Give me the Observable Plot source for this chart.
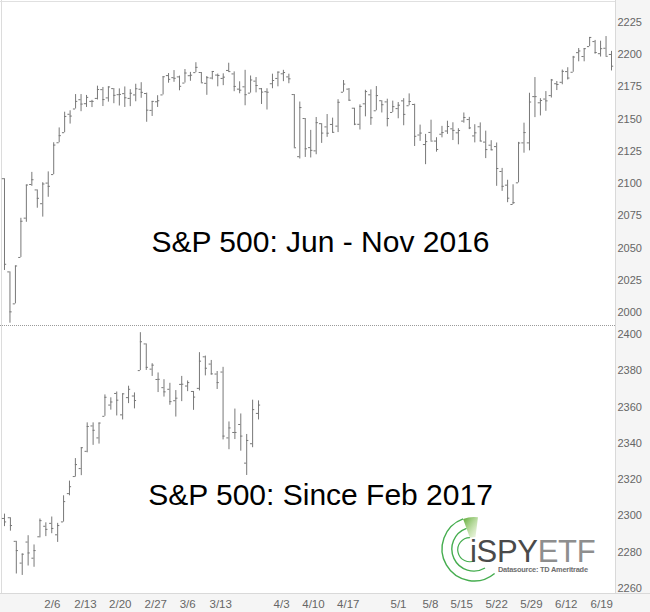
<!DOCTYPE html>
<html>
<head>
<meta charset="utf-8">
<script src="https://cdn.jsdelivr.net/npm/d3@7"></script>
<script src="https://cdn.jsdelivr.net/npm/@observablehq/plot@0.6"></script>
<style>
  html, body { margin: 0; padding: 0; background: #fff; }
  #wrap { position: relative; width: 650px; height: 612px; overflow: hidden; font-family: "Liberation Sans", Arial, sans-serif; background: #fff; }
  .abs { position: absolute; }
  #rightBand { left: 615px; top: 0; width: 35px; height: 612px; background: #f5f5f5; border-left: 1px solid #d9d9d9; box-sizing: border-box; }
  #bottomBand { left: 0; top: 593px; width: 650px; height: 19px; background: #f5f5f5; border-top: 1px solid #d9d9d9; box-sizing: border-box; }
  #leftLine { left: 1px; top: 0; width: 1px; height: 593px; background: #dcdcdc; }
  #topLine { left: 0; top: 1px; width: 615px; height: 1px; background: #e0e0e0; }
  #sep { left: 0; top: 325px; width: 615px; height: 0; border-top: 1px dotted #9a9a9a; }
  #topChart { left: 0; top: 0; }
  #botChart { left: 0; top: 326px; }
  #logo { left: 430px; top: 505px; }
</style>
</head>
<body>
<div id="wrap">
  <div id="rightBand" class="abs"></div>
  <div id="bottomBand" class="abs"></div>
  <div id="leftLine" class="abs"></div>
  <div id="topLine" class="abs"></div>
  <div id="topChart" class="abs"></div>
  <div id="botChart" class="abs"></div>
  <div id="sep" class="abs"></div>
  <div id="logo" class="abs">
    <svg width="180" height="85" viewBox="0 0 180 85" xmlns="http://www.w3.org/2000/svg">
      <defs>
        <linearGradient id="wedge" x1="0" y1="0" x2="1" y2="1">
          <stop offset="0" stop-color="#5aa832" stop-opacity="1"/>
          <stop offset="1" stop-color="#b9dc8e" stop-opacity="0.2"/>
        </linearGradient>
      </defs>
      <g transform="translate(44,44)" fill="none" stroke="#45ad4f" stroke-width="1.4">
        <path d="M 20.6 24.5 A 32 32 0 1 1 -10.9 -30.1"/>
        <path d="M 11 19 A 22 22 0 1 1 -7.5 -20.7"/>
        <path d="M 1 11.5 A 12 12 0 1 1 -4.1 -11.3" stroke-width="1.2"/>
        <path d="M -4.1 -11.3 L -10.9 -30.1 A 32 32 0 0 1 4 -31.7 L 1.5 -11.9 Z" fill="url(#wedge)" stroke="none"/>
      </g>
      <text x="40" y="57" font-family="Liberation Sans, Arial, sans-serif" font-size="31" letter-spacing="-0.3"><tspan fill="#4a4a4a">iSPY</tspan><tspan fill="#8e8e8e">ETF</tspan></text>
      <text x="68" y="67" font-family="Liberation Sans, Arial, sans-serif" font-size="7.4" font-weight="bold" fill="#6e6e6e" textLength="90">Datasource: TD Ameritrade</text>
    </svg>
  </div>
</div>
<script>
// ---------- Data: S&P 500 daily OHLC, Jun 24 - Dec 1, 2016 ----------
const dates2016 = ["6/24","6/27","6/28","6/29","6/30","7/1","7/5","7/6","7/7","7/8","7/11","7/12","7/13","7/14","7/15","7/18","7/19","7/20","7/21","7/22","7/25","7/26","7/27","7/28","7/29","8/1","8/2","8/3","8/4","8/5","8/8","8/9","8/10","8/11","8/12","8/15","8/16","8/17","8/18","8/19","8/22","8/23","8/24","8/25","8/26","8/29","8/30","8/31","9/1","9/2","9/6","9/7","9/8","9/9","9/12","9/13","9/14","9/15","9/16","9/19","9/20","9/21","9/22","9/23","9/26","9/27","9/28","9/29","9/30","10/3","10/4","10/5","10/6","10/7","10/10","10/11","10/12","10/13","10/14","10/17","10/18","10/19","10/20","10/21","10/24","10/25","10/26","10/27","10/28","10/31","11/1","11/2","11/3","11/4","11/7","11/8","11/9","11/10","11/11","11/14","11/15","11/16","11/17","11/18","11/21","11/22","11/23","11/25","11/28","11/29","11/30","12/1"];
const open2016 = [2103.8,2031.5,2006.7,2042.7,2073.2,2099.3,2095.1,2084.4,2100.4,2107.0,2131.7,2139.5,2153.8,2157.9,2165.1,2162.0,2163.8,2166.1,2172.9,2166.5,2173.7,2169.0,2169.8,2166.1,2168.8,2173.2,2169.9,2156.8,2163.5,2168.8,2183.8,2182.2,2182.8,2178.0,2183.7,2186.1,2186.2,2177.8,2181.9,2184.2,2181.6,2187.8,2185.1,2173.3,2175.1,2170.2,2179.5,2173.6,2171.3,2177.5,2181.6,2185.2,2182.8,2169.1,2120.9,2150.5,2127.9,2125.4,2146.5,2144.0,2145.9,2144.6,2170.9,2173.3,2158.5,2146.0,2161.9,2168.9,2156.5,2164.3,2163.4,2155.2,2158.2,2164.2,2160.4,2161.4,2137.7,2130.3,2139.7,2133.0,2138.3,2140.8,2142.5,2139.4,2148.5,2149.7,2137.0,2144.1,2132.2,2129.8,2128.7,2109.4,2098.8,2083.8,2100.6,2131.6,2131.6,2167.5,2162.7,2165.6,2168.3,2177.5,2178.6,2186.9,2186.4,2201.6,2198.6,2206.3,2210.2,2200.8,2205.0,2200.2];
const high2016 = [2103.8,2031.5,2036.1,2073.1,2098.9,2108.7,2095.1,2100.7,2109.1,2131.7,2143.2,2155.4,2156.5,2169.1,2169.1,2168.4,2164.6,2175.6,2174.6,2175.1,2173.7,2173.5,2175.0,2172.9,2177.1,2178.3,2170.2,2163.8,2168.2,2182.9,2185.4,2187.7,2183.4,2188.5,2186.3,2193.8,2186.2,2183.1,2187.0,2185.0,2185.2,2193.4,2186.7,2179.0,2187.9,2183.5,2182.3,2173.8,2173.6,2184.9,2186.6,2187.9,2184.9,2169.1,2163.3,2150.5,2141.3,2151.3,2146.5,2153.6,2150.8,2165.1,2180.0,2173.8,2158.5,2161.1,2172.4,2172.7,2175.3,2164.3,2165.5,2164.0,2162.9,2165.9,2169.6,2161.6,2145.4,2138.2,2149.2,2135.6,2144.4,2148.4,2147.2,2142.6,2154.8,2151.4,2145.7,2147.1,2140.7,2133.3,2131.5,2111.8,2102.6,2099.1,2132.0,2146.9,2170.1,2182.3,2165.9,2171.4,2180.8,2179.2,2188.1,2189.9,2198.7,2204.8,2204.7,2213.4,2211.1,2210.5,2214.1,2202.6];
const low2016 = [2032.6,1991.7,2006.7,2042.7,2070.0,2097.9,2080.9,2074.0,2089.4,2107.0,2131.7,2139.5,2146.2,2157.9,2155.8,2159.1,2159.0,2164.9,2159.8,2163.2,2162.0,2160.2,2159.1,2159.7,2163.5,2166.2,2147.6,2152.1,2159.1,2168.8,2177.9,2178.6,2172.0,2178.0,2179.4,2186.1,2178.1,2168.5,2180.5,2175.1,2176.0,2186.8,2171.3,2169.7,2160.4,2170.2,2170.4,2161.4,2157.1,2173.6,2175.1,2179.1,2177.5,2127.8,2119.1,2120.3,2119.9,2122.4,2131.2,2135.9,2139.2,2139.6,2170.9,2164.0,2145.0,2141.6,2151.8,2145.2,2156.5,2154.8,2144.0,2155.2,2150.3,2144.9,2160.4,2128.8,2132.8,2114.7,2133.0,2124.4,2135.5,2138.2,2133.4,2130.1,2146.9,2141.9,2131.6,2132.5,2119.4,2125.5,2097.9,2094.0,2085.2,2083.8,2100.6,2123.6,2125.4,2151.2,2152.5,2156.1,2166.4,2172.2,2176.7,2180.4,2186.4,2194.5,2194.5,2206.3,2200.4,2198.2,2198.8,2187.4];
const close2016 = [2037.4,2000.5,2036.1,2070.8,2098.9,2103.0,2088.6,2099.7,2097.9,2129.9,2137.2,2152.1,2152.4,2163.8,2161.7,2166.9,2163.8,2173.0,2165.2,2175.0,2168.5,2169.2,2166.6,2170.1,2173.6,2170.8,2157.0,2163.8,2164.3,2182.9,2180.9,2181.7,2175.5,2185.8,2184.1,2190.2,2178.2,2182.2,2187.0,2183.9,2182.6,2186.9,2175.4,2172.5,2169.0,2180.4,2176.1,2171.0,2170.9,2180.0,2186.5,2186.2,2181.3,2127.8,2159.0,2127.0,2125.8,2147.3,2139.2,2139.1,2139.8,2163.1,2177.2,2164.7,2146.1,2159.9,2171.4,2151.1,2168.3,2161.2,2150.5,2159.7,2160.8,2153.7,2163.7,2136.7,2139.2,2132.6,2133.0,2126.5,2139.6,2144.3,2141.3,2141.2,2151.3,2143.2,2139.4,2133.0,2126.4,2126.2,2111.7,2097.9,2088.7,2085.2,2131.5,2139.6,2163.3,2167.5,2164.5,2164.2,2180.4,2176.9,2187.1,2181.9,2198.2,2202.9,2204.7,2213.4,2201.7,2204.7,2198.8,2191.1];

// ---------- Data: S&P 500 daily OHLC, Jan 26 - Mar 29, 2017 ----------
const dates2017 = ["1/26","1/27","1/30","1/31","2/1","2/2","2/3","2/6","2/7","2/8","2/9","2/10","2/13","2/14","2/15","2/16","2/17","2/21","2/22","2/23","2/24","2/27","2/28","3/1","3/2","3/3","3/6","3/7","3/8","3/9","3/10","3/13","3/14","3/15","3/16","3/17","3/20","3/21","3/22","3/23","3/24","3/27","3/28","3/29"];
const open2017 = [2298.6,2299.0,2286.0,2274.0,2285.6,2276.7,2288.5,2294.3,2295.9,2289.6,2296.7,2312.3,2321.7,2326.1,2335.6,2349.6,2343.0,2354.9,2361.1,2367.5,2355.7,2365.2,2366.1,2380.1,2394.8,2380.9,2375.2,2370.7,2369.8,2363.5,2372.5,2371.6,2368.6,2370.3,2387.7,2383.7,2378.2,2379.3,2343.0,2346.0,2350.4,2329.1,2339.8,2356.5];
const high2017 = [2301.0,2299.0,2286.0,2279.1,2289.1,2284.0,2298.3,2296.2,2299.4,2295.9,2311.1,2319.2,2331.6,2337.6,2351.3,2351.3,2351.2,2366.7,2365.1,2368.3,2367.3,2371.5,2367.8,2401.0,2394.8,2383.9,2378.8,2375.1,2373.1,2369.1,2376.9,2374.4,2368.6,2390.0,2388.1,2385.7,2379.6,2381.9,2351.8,2358.9,2356.2,2344.9,2363.8,2363.4];
const low2017 = [2294.1,2291.6,2268.0,2267.2,2272.4,2271.7,2287.9,2288.6,2290.2,2285.4,2296.6,2311.1,2321.4,2322.2,2334.8,2338.9,2339.6,2354.9,2358.3,2355.1,2352.9,2361.9,2359.0,2380.1,2380.2,2376.9,2368.0,2365.5,2361.0,2354.5,2363.0,2368.5,2358.2,2368.9,2377.2,2377.6,2369.7,2341.9,2336.5,2342.1,2335.7,2322.3,2337.6,2352.9];
const close2017 = [2296.7,2294.7,2280.9,2278.9,2279.6,2280.9,2297.4,2292.6,2293.1,2294.7,2307.9,2316.1,2328.3,2337.6,2349.3,2347.2,2351.2,2365.4,2362.8,2363.8,2367.3,2369.8,2363.6,2396.0,2381.9,2383.1,2375.3,2368.4,2363.0,2364.9,2372.6,2373.5,2365.5,2385.3,2381.4,2378.3,2373.5,2344.0,2348.5,2346.0,2344.0,2341.6,2358.6,2361.1];

// ---------- Axis ticks ----------
const yTicks2016 = [2000, 2025, 2050, 2075, 2100, 2125, 2150, 2175, 2200, 2225];
const yTicks2017 = [2260, 2280, 2300, 2320, 2340, 2360, 2380, 2400];
const xTickLabels = ["2/6","2/13","2/20","2/27","3/6","3/13","4/3","4/10","4/17","5/1","5/8","5/15","5/22","5/29","6/12","6/19"];
const xTickPos = [8.1, 13.7, 19.6, 25.6, 31.0, 36.6, 46.9, 52.3, 58.2, 66.7, 72.1, 77.4, 83.3, 89.2, 95.1, 101.1];

const title2016 = "S&P 500: Jun - Nov 2016";
const title2017 = "S&P 500: Since Feb 2017";

// ---------- Build tables ----------
const bars2016 = dates2016.map((d, i) => ({i, date: d, open: open2016[i], high: high2016[i], low: low2016[i], close: close2016[i]}));
const bars2017 = dates2017.map((d, i) => ({i, date: d, open: open2017[i], high: high2017[i], low: low2017[i], close: close2017[i]}));
const tickLabelOf = new Map(xTickPos.map((p, k) => [p, xTickLabels[k]]));

const BAR = "#787878";
const FONT = "'Liberation Sans', Arial, Helvetica, sans-serif";
const plainNum = d => String(d);

function ohlc(data, tick) {
  return [
    Plot.ruleX(data, {x: "i", y1: "low", y2: "high", stroke: BAR, strokeWidth: 1}),
    Plot.ruleY(data, {y: "open", x1: d => d.i - tick, x2: "i", stroke: BAR, strokeWidth: 1}),
    Plot.ruleY(data, {y: "close", x1: "i", x2: d => d.i + tick, stroke: BAR, strokeWidth: 1})
  ];
}

const style = {background: "transparent", fontFamily: FONT, color: "#666", overflow: "visible"};

const topPlot = Plot.plot({
  width: 650, height: 326,
  marginLeft: 0, marginRight: 35, marginTop: 22, marginBottom: 14,
  style,
  x: {domain: [-0.73, 111.73], axis: null},
  y: {domain: [2000, 2225], axis: null},
  marks: [
    Plot.axisY(yTicks2016, {anchor: "right", tickSize: 0, tickPadding: 2, fontSize: 11, label: null, fill: "#666", tickFormat: plainNum}),
    ...ohlc(bars2016, 0.4),
    Plot.text([title2016], {text: d => d, frameAnchor: "top-left", dx: 320, dy: 220, fontSize: 30, textAnchor: "middle", lineAnchor: "middle", fill: "#000"})
  ]
});

const botPlot = Plot.plot({
  width: 650, height: 286,
  marginLeft: 0, marginRight: 35, marginTop: 8, marginBottom: 24,
  style,
  x: {domain: [-0.677, 103.43], axis: null},
  y: {domain: [2260, 2400], axis: null},
  marks: [
    Plot.axisY(yTicks2017, {anchor: "right", tickSize: 0, tickPadding: 2, fontSize: 11, label: null, fill: "#666", tickFormat: plainNum}),
    Plot.axisX(xTickPos, {anchor: "bottom", tickSize: 0, tickPadding: 11, fontSize: 11.5, label: null, fill: "#666", tickFormat: d => tickLabelOf.get(d)}),
    ...ohlc(bars2017, 0.36),
    Plot.text([title2017], {text: d => d, frameAnchor: "top-left", dx: 320, dy: 161, fontSize: 30, textAnchor: "middle", lineAnchor: "middle", fill: "#000"})
  ]
});

document.getElementById("topChart").appendChild(topPlot);
document.getElementById("botChart").appendChild(botPlot);
</script>
</body>
</html>
